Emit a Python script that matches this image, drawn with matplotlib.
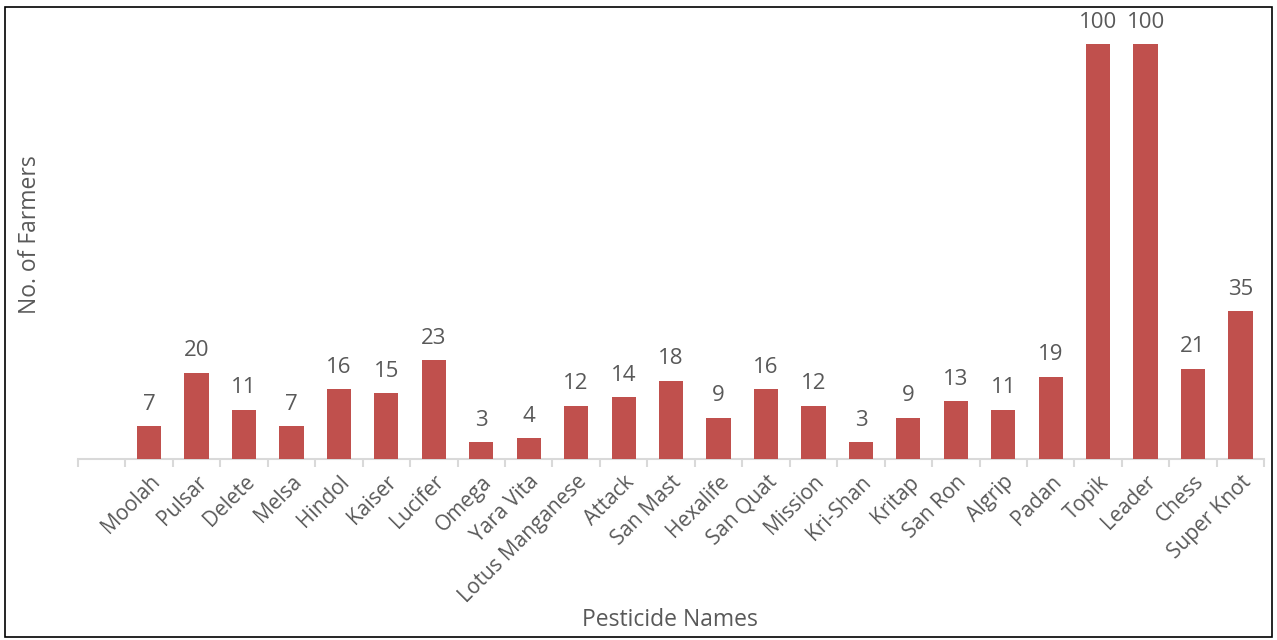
import numpy as np
import matplotlib.pyplot as plt
from matplotlib.patches import Rectangle

pesticides = ["Moolah", "Pulsar", "Delete", "Melsa", "Hindol", "Kaiser", "Lucifer",
              "Omega", "Yara Vita", "Lotus Manganese", "Attack", "San Mast", "Hexalife",
              "San Quat", "Mission", "Kri-Shan", "Kritap", "San Ron", "Algrip", "Padan",
              "Topik", "Leader", "Chess", "Super Knot"]
farmers = [7, 20, 11, 7, 16, 15, 23, 3, 4, 12, 14, 18, 9, 16, 12, 3, 9, 13, 11, 19,
           100, 100, 21, 35]

plt.rcParams['font.family'] = ['Open Sans', 'DejaVu Sans']
txt = '#595959'

fig = plt.figure(figsize=(12.77, 6.4), dpi=100)
ax = fig.add_axes([0.061, 0.283, 0.929, 0.701])

# value axis in the original starts slightly below zero
ymin, ymax = -1.0, 108.3
x = np.arange(1, len(pesticides) + 1)  # first category slot left empty
ax.bar(x, np.array(farmers) - ymin, bottom=ymin, width=0.51, color='#C0504D', zorder=3)
for xi, v in zip(x, farmers):
    ax.text(xi, v + 2.8, str(v), ha='center', va='bottom', fontsize=16, color=txt)

ax.set_xlim(-0.5, len(pesticides) + 0.5)
ax.set_ylim(ymin, ymax)
ax.set_xticks(x)
ax.set_xticklabels(pesticides, rotation=45, ha='right', rotation_mode='anchor',
                   fontsize=15, color=txt)
ax.set_xticks(np.arange(-0.5, len(pesticides) + 1), minor=True)
ax.tick_params(axis='x', which='major', length=0, pad=9)
ax.tick_params(axis='x', which='minor', length=6, color='#D9D9D9', width=1.5)
ax.set_yticks([])
for s in ['top', 'right', 'left']:
    ax.spines[s].set_visible(False)
ax.spines['bottom'].set_color('#D9D9D9')
ax.spines['bottom'].set_linewidth(1.5)

ax.set_ylabel('No. of Farmers', fontsize=16.5, color=txt, labelpad=26)
fig.text(0.525, 0.031, 'Pesticide Names', ha='center', va='center', fontsize=16.5, color=txt)

fig.patches.append(Rectangle((0.004, 0.005), 0.992, 0.984, transform=fig.transFigure,
                             fill=False, edgecolor='black', linewidth=1.2))

fig.savefig('out.png', dpi=100)
